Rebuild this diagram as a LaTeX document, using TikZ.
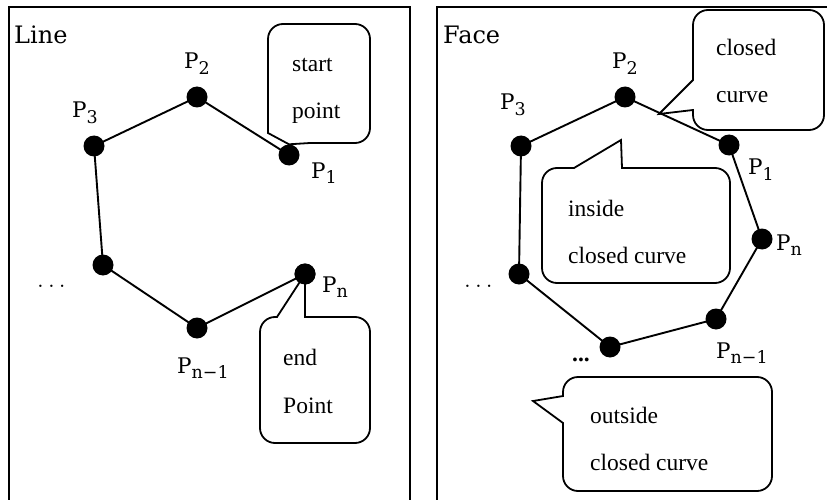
\documentclass[tikz,border=0pt]{standalone}
\usepackage{fontspec}
\newfontfamily\tms{Liberation Serif}
\newfontfamily\lblf{DejaVu Serif}
\newcommand\Psub[1]{P\raisebox{-5.5pt}{\fontsize{17.5}{20}\selectfont #1}}
\begin{document}
\begin{tikzpicture}[x=1pt,y=-1pt,
  frame/.style={line width=2pt},
  edge/.style={line width=1.9pt},
  dot/.style={circle,fill=black,inner sep=0pt,minimum size=21pt},
  bubble/.style={line width=1.8pt,fill=white},
  lbl/.style={anchor=base west,inner sep=0pt,font=\lblf\fontsize{21.5}{24}\selectfont},
  ttl/.style={anchor=base west,inner sep=0pt,font=\lblf\fontsize{24}{28}\selectfont},
  btxt/.style={anchor=base west,inner sep=0pt,font=\tms\fontsize{23.5}{28}\selectfont}]
\useasboundingbox (0,0) rectangle (827,500);
\clip (0,0) rectangle (827,500);
% frames
\draw[frame] (9,7) rectangle (410,520);
\draw[frame] (437,7) rectangle (850,520);
\node[ttl] (tline) at (14,44) {Line};
\node[ttl] (tface) at (443,44) {Face};

% ---------- left panel ----------
\node[dot] (L1) at (289,155) {};
\node[dot] (L2) at (197,97) {};
\node[dot] (L3) at (94,146) {};
\node[dot] (L4) at (103,265) {};
\node[dot] (L5) at (197,328) {};
\node[dot] (L6) at (305,274) {};
\draw[edge] (L1.center) -- (L2.center) -- (L3.center) -- (L4.center) -- (L5.center) -- (L6.center);
\node[lbl] (lp2) at (184,69) {\Psub{2}};
\node[lbl] (lp3) at (72,118) {\Psub{3}};
\node[lbl] (lp1) at (311,178) {\Psub{1}};
\node[lbl] (lpn) at (322,292) {\Psub{n}};
\node[lbl] (lpn1) at (177,373) {\Psub{n−1}};
\node[anchor=base west,inner sep=0pt,font=\fontsize{24}{28}\selectfont] (ldots) at (37,287) {$\ldots$};

% start point callout
\draw[bubble] (320,24) [rounded corners=15pt] -- (370,24) -- (370,143)
  [sharp corners] -- (310,143) -- (L1.north) -- (268,133)
  [rounded corners=15pt] -- (268,24) -- cycle;
\node[btxt] (tstart) at (292,72) {start};
\node[btxt] (tpoint) at (292,119) {point};

% end point callout
\draw[bubble] (370,380) [rounded corners=15pt] -- (370,443) -- (260,443) -- (260,317)
  [sharp corners] -- (277,317) -- (L6.center) -- (305,317)
  [rounded corners=15pt] -- (370,317) -- cycle;
\node[dot] at (L6) {};
\node[btxt] (tend) at (283,365) {end};
\node[btxt] (tPoint) at (283,413) {Point};

% ---------- right panel ----------
\node[dot] (R1) at (729,145) {};
\node[dot] (R2) at (625,97) {};
\node[dot] (R3) at (521,146) {};
\node[dot] (R4) at (519,274) {};
\node[dot] (R5) at (610,347) {};
\node[dot] (R6) at (716,319) {};
\node[dot] (R7) at (762,239) {};
\draw[edge] (R1.center) -- (R2.center) -- (R3.center) -- (R4.center) -- (R5.center) -- (R6.center) -- (R7.center) -- cycle;
\node[lbl] (rp2) at (612,69) {\Psub{2}};
\node[lbl] (rp3) at (500,110) {\Psub{3}};
\node[lbl] (rp1) at (748,175) {\Psub{1}};
\node[lbl] (rpn) at (776,250) {\Psub{n}};
\node[lbl] (rpn1) at (716,358) {\Psub{n−1}};
\node[anchor=base west,inner sep=0pt,font=\fontsize{24}{28}\selectfont] (rdots) at (464,287) {$\ldots$};
\node[btxt,font=\tms\bfseries\fontsize{23.5}{28}\selectfont] (rbdots) at (572,361) {...};

\coordinate (ctip) at (659,114);
% closed curve callout
\draw[bubble] (760,10) [rounded corners=15pt] -- (824,10) -- (824,130) -- (693,130)
  [sharp corners] -- (693,110) -- (ctip) -- (693,80)
  [rounded corners=15pt] -- (693,10) -- cycle;
\node[btxt] (tclosed) at (716,56) {closed};
\node[btxt] (tcurve) at (716,103) {curve};

% inside callout
\coordinate (itip) at (621,140);
\draw[bubble] (730,225) [rounded corners=15pt] -- (730,283) -- (542,283) -- (542,168)
  [sharp corners] -- (574,168) -- (itip) -- (622,168)
  [rounded corners=15pt] -- (730,168) -- cycle;
\node[btxt] (tinside) at (568,216) {inside};
\node[btxt] (tinside2) at (568,263) {closed curve};

% outside callout
\coordinate (otip) at (533,401);
\draw[bubble] (670,377) [rounded corners=15pt] -- (772,377) -- (772,491) -- (563,491)
  [sharp corners] -- (563,423) -- (otip) -- (563,396)
  [rounded corners=15pt] -- (563,377) -- cycle;
\node[btxt] (toutside) at (590,423) {outside};
\node[btxt] (toutside2) at (590,470) {closed curve};
\end{tikzpicture}
\end{document}
